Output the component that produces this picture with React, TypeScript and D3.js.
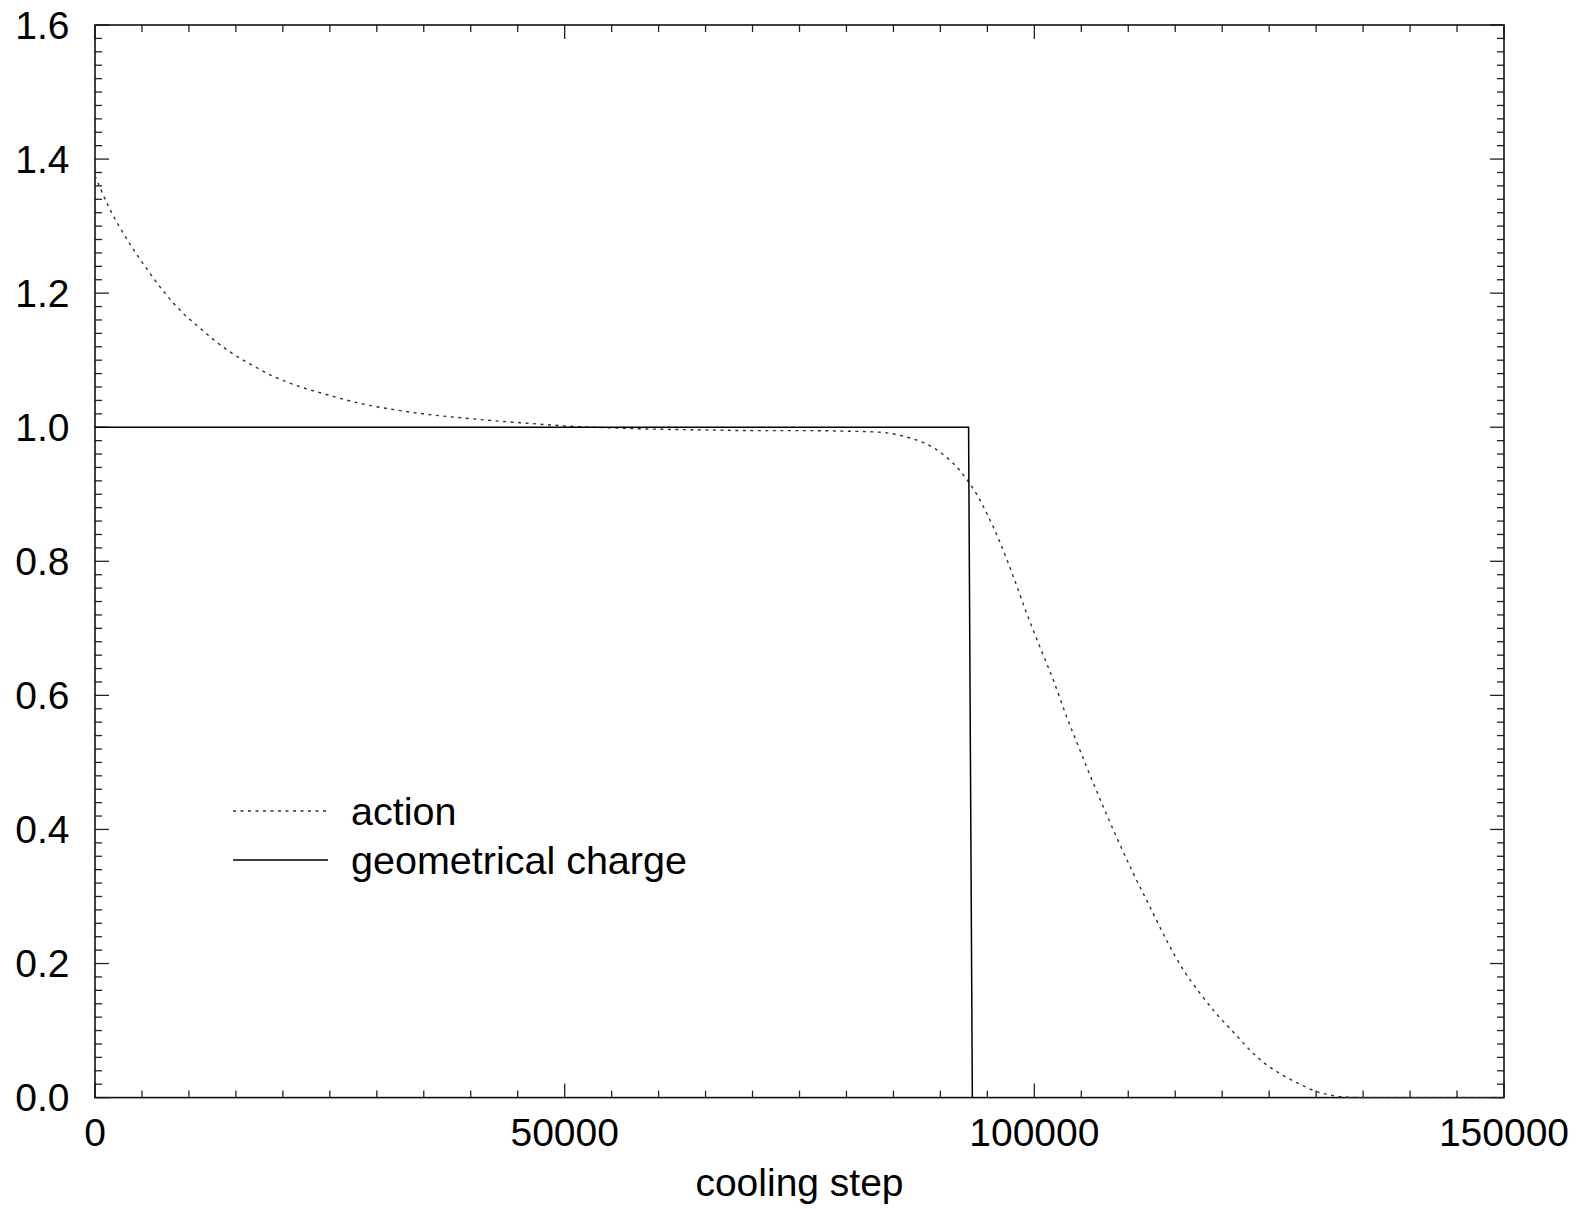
import React from "react";
import * as d3 from "d3";

const xMajorTicks = [0, 50000, 100000, 150000];
const xTickLabels = ["0", "50000", "100000", "150000"];
const yMajorTicks = [0, 0.2, 0.4, 0.6, 0.8, 1.0, 1.2, 1.4, 1.6];
const yTickLabels = ["0.0", "0.2", "0.4", "0.6", "0.8", "1.0", "1.2", "1.4", "1.6"];
const xLabel = "cooling step";
const seriesNames = ["action", "geometrical charge"];

const actionSteps = [
  0, 1420, 3550, 5320, 7450, 9230, 11000, 12420, 14200, 16680, 18810, 21300,
  24840, 28390, 31940, 35490, 39040, 42230, 46000, 50000, 55000, 60000, 65000,
  70000, 75000, 80400, 82900, 84650, 86240, 87830, 89430, 90670, 91910, 92970,
  93860, 94920, 96350, 97770, 99190, 100600, 102020, 103440, 104860, 106280,
  107700, 108740, 110520, 112290, 114070, 115840, 117620, 119390, 121170,
  122950, 124720, 126490, 128270, 130040, 131810, 133500, 135000, 140000, 150000,
];
const actionValues = [
  1.375, 1.33, 1.277, 1.24, 1.2, 1.172, 1.15, 1.133, 1.114, 1.093, 1.077, 1.063,
  1.048, 1.035, 1.026, 1.019, 1.014, 1.01, 1.006, 1.002, 0.999, 0.997, 0.996,
  0.995, 0.995, 0.994, 0.993, 0.991, 0.986, 0.979, 0.968, 0.955, 0.938, 0.919,
  0.9, 0.872, 0.828, 0.777, 0.722, 0.672, 0.623, 0.568, 0.518, 0.469,
  0.422, 0.389, 0.335, 0.285, 0.235, 0.191, 0.156, 0.125, 0.098,
  0.071, 0.049, 0.033, 0.02, 0.009, 0.003, 0.0005, 0, 0, 0,
];

const chargeSteps = [0, 93000, 93400];
const chargeValues = [1.0, 1.0, 0.0];

const W = 1583;
const H = 1209;
const L = 95;
const R = 1504;
const T = 25;
const B = 1097.6;
const FONT = "'Liberation Sans', Arial, Helvetica, sans-serif";

export default function App() {
  const x = d3.scaleLinear().domain([0, 150000]).range([L, R]);
  const y = d3.scaleLinear().domain([0, 1.6]).range([B, T]);

  const xMinor = d3.range(0, 150001, 5000);
  const yMinor = d3.range(0, 81).map((i) => i * 0.02);

  const line = d3
    .line<[number, number]>()
    .x((d) => x(d[0]))
    .y((d) => y(d[1]))
    .curve(d3.curveMonotoneX);
  const straight = d3
    .line<[number, number]>()
    .x((d) => x(d[0]))
    .y((d) => y(d[1]));

  const actionData: [number, number][] = actionSteps.map((s, i) => [s, actionValues[i]]);
  const chargeData: [number, number][] = chargeSteps.map((s, i) => [s, chargeValues[i]]);

  const isMajorX = (v: number) => xMajorTicks.some((m) => Math.abs(m - v) < 1);
  const isMajorY = (v: number) => yMajorTicks.some((m) => Math.abs(m - v) < 1e-6);

  const tickColor = "#222";

  return (
    <svg
      width={W}
      height={H}
      style={{ position: "absolute", left: 0, top: 0, background: "#fff" }}
    >
      <rect x={0} y={0} width={W} height={H} fill="#fff" />
      {/* x ticks, bottom and top */}
      {xMinor.map((v, i) => {
        const len = isMajorX(v) ? 14 : 7;
        const px = x(v);
        return (
          <g key={"xt" + i} stroke={tickColor} strokeWidth={1.3}>
            <line x1={px} x2={px} y1={B} y2={B - len} />
            <line x1={px} x2={px} y1={T} y2={T + len} />
          </g>
        );
      })}
      {/* y ticks, left and right */}
      {yMinor.map((v, i) => {
        const len = isMajorY(v) ? 14 : 7;
        const py = y(v);
        return (
          <g key={"yt" + i} stroke={tickColor} strokeWidth={1.3}>
            <line x1={L} x2={L + len} y1={py} y2={py} />
            <line x1={R} x2={R - len} y1={py} y2={py} />
          </g>
        );
      })}
      {/* frame */}
      <rect
        x={L}
        y={T}
        width={R - L}
        height={B - T}
        fill="none"
        stroke="#111"
        strokeWidth={1.6}
      />
      {/* tick labels */}
      {yMajorTicks.map((v, i) => (
        <text
          key={"yl" + i}
          x={69.5}
          y={y(v) + 13.5}
          textAnchor="end"
          fontFamily={FONT}
          fontSize={39}
          fill="#000"
        >
          {yTickLabels[i]}
        </text>
      ))}
      {xMajorTicks.map((v, i) => (
        <text
          key={"xl" + i}
          x={x(v)}
          y={1145.5}
          textAnchor="middle"
          fontFamily={FONT}
          fontSize={39}
          fill="#000"
        >
          {xTickLabels[i]}
        </text>
      ))}
      <text
        x={(L + R) / 2}
        y={1196}
        textAnchor="middle"
        fontFamily={FONT}
        fontSize={39}
        fill="#000"
      >
        {xLabel}
      </text>
      {/* series */}
      <path
        d={line(actionData) || ""}
        fill="none"
        stroke="#333"
        strokeWidth={1.4}
        strokeDasharray="3,4.5"
      />
      <path
        d={straight(chargeData) || ""}
        fill="none"
        stroke="#000"
        strokeWidth={1.5}
      />
      {/* legend */}
      <line x1={233} x2={328} y1={811} y2={811} stroke="#333" strokeWidth={1.4} strokeDasharray="3,4.5" />
      <text x={351} y={825} fontFamily={FONT} fontSize={39.5} fill="#000">
        {seriesNames[0]}
      </text>
      <line x1={233} x2={328} y1={860} y2={860} stroke="#000" strokeWidth={1.5} />
      <text x={351} y={874} fontFamily={FONT} fontSize={39.5} fill="#000">
        {seriesNames[1]}
      </text>
    </svg>
  );
}
